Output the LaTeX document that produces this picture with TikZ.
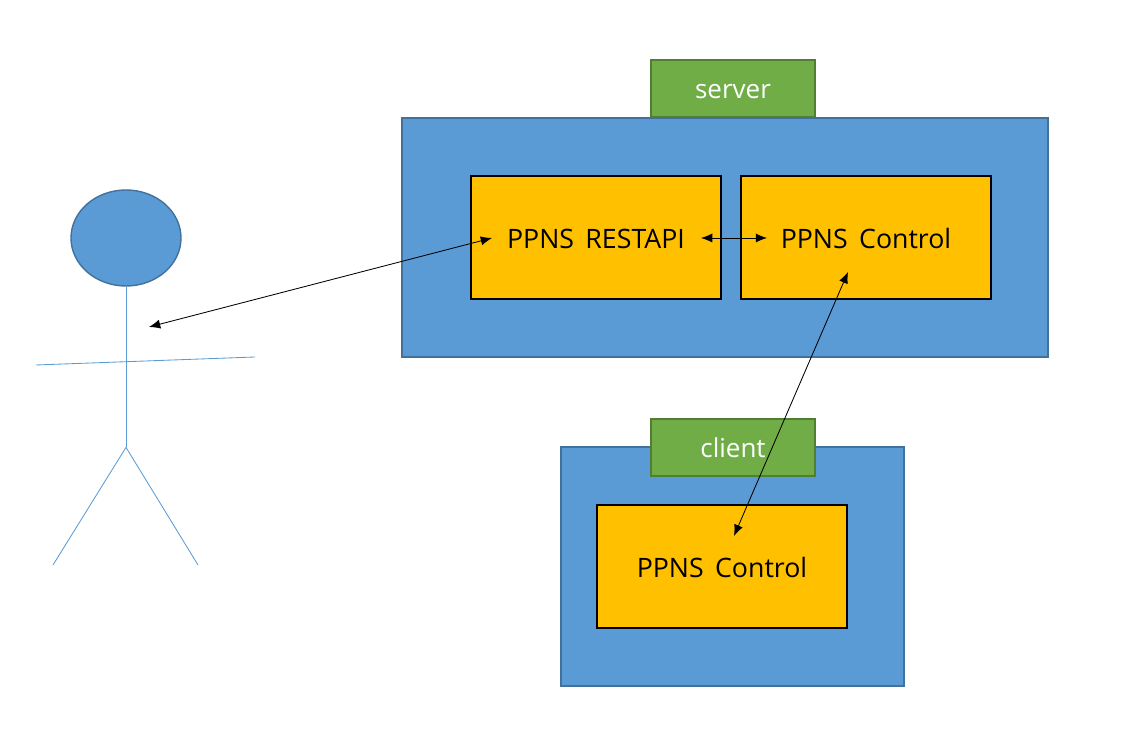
\documentclass[tikz,border=0pt]{standalone}
\usepackage{fontspec}
\setmainfont{Open Sans}
\usepackage{xcolor}
\usetikzlibrary{arrows.meta,shapes.geometric}
\definecolor{boxblue}{HTML}{5B9BD5}
\definecolor{edgeblue}{HTML}{41719C}
\definecolor{taggreen}{HTML}{70AD47}
\definecolor{edgegreen}{HTML}{507E32}
\definecolor{ctrlgold}{HTML}{FFC000}
\tikzset{
	hostbox/.style={draw=edgeblue, fill=boxblue, line width=1pt, minimum width=#1, minimum height=5.975cm, inner sep=0pt},
	tagbox/.style={draw=edgegreen, fill=taggreen, line width=1pt, minimum width=4.1cm, minimum height=1.425cm, inner sep=0pt, text=white, text height=18pt, text depth=4.4pt, font=\fontsize{18.5}{20}\selectfont},
	modbox/.style={draw=black, fill=ctrlgold, line width=1.4pt, minimum width=6.25cm, minimum height=3.075cm, inner sep=0pt, text height=18pt, text depth=2.4pt, font=\fontsize{19}{20}\selectfont},
	limb/.style={draw=boxblue, line width=0.6pt},
	link/.style={draw=black, line width=0.6pt, {Latex[length=8pt,width=6.5pt]}-{Latex[length=8pt,width=6.5pt]}}
}
\begin{document}
\begin{tikzpicture}
			\useasboundingbox (0,0) rectangle (28.15,18.775);

			\node[hostbox=16.15cm] (serverhost) at(18.125, 12.8375){};
			\node[tagbox] (servertag) at(18.325, 16.5625){server};
			\node[modbox] (restapi) at(14.9, 12.8375){PPNS\, RESTAPI};
			\node[modbox] (servercontrol) at(21.65, 12.8375){PPNS\, Control};

			\node[hostbox=8.575cm] (clienthost) at(18.3125, 4.6125){};
			\node[tagbox] (clienttag) at(18.325, 7.5875){client};
			\node[modbox] (clientcontrol) at(18.05, 4.6125){PPNS\, Control};

			\node[ellipse, draw=edgeblue, fill=boxblue, line width=1pt, minimum width=2.75cm, minimum height=2.4cm, inner sep=0pt] (head) at(3.15, 12.825){};
			\coordinate (hip) at(3.15, 7.59);
			\coordinate (armleft) at(.9, 9.65);
			\coordinate (armright) at(6.375, 9.85);
			\coordinate (legleft) at(1.325, 4.65);
			\coordinate (legright) at(4.95, 4.65);
			\draw[limb] (head.south) to (hip);
			\draw[limb] (armleft) to (armright);
			\draw[limb] (hip) to (legleft);
			\draw[limb] (hip) to (legright);

			\coordinate (userend) at(3.725, 10.6);
			\coordinate (restleft) at(12.3, 12.825);
			\coordinate (restright) at(17.525, 12.825);
			\coordinate (controlleft) at(19.175, 12.825);
			\coordinate (controllow) at(21.2, 11.975);
			\coordinate (clienttop) at(18.35, 5.375);
			\draw[link] (userend) to (restleft);
			\draw[link] (restright) to (controlleft);
			\draw[link] (controllow) to (clienttop);
		\end{tikzpicture}
\end{document}
